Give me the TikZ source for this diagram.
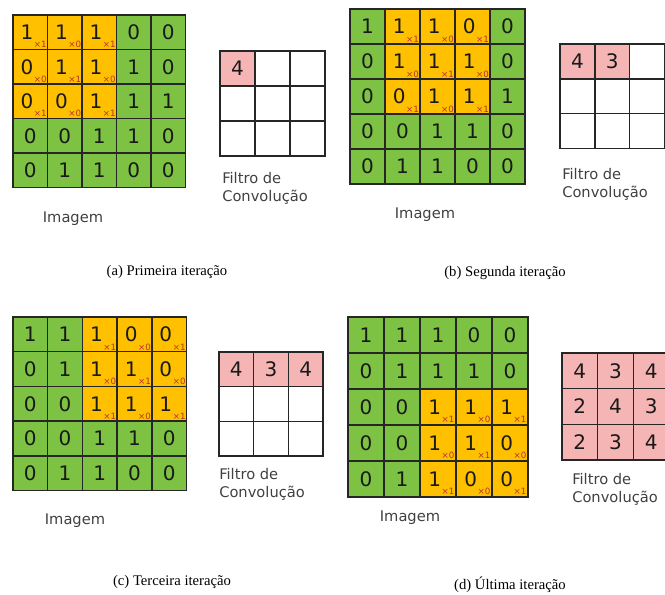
\documentclass[tikz,border=0pt]{standalone}
\usepackage{fontspec}
\setmainfont{Liberation Serif}
\newfontfamily\verdfont{DejaVu Sans}
\definecolor{imggreen}{HTML}{7DC242}
\definecolor{winorange}{HTML}{FFC000}
\definecolor{outpink}{HTML}{F5B5B5}
\definecolor{wtred}{HTML}{B8322A}
\tikzset{cell/.style={draw=black!85,line width=1.1pt,inner sep=0pt,fill=imggreen,text=black!90,font=\verdfont\fontsize{15}{16}\selectfont},hot/.style={cell,fill=winorange},outcell/.style={cell,fill=white},outdone/.style={cell,fill=outpink},wt/.style={inner sep=0pt,text=wtred,font=\verdfont\fontsize{6.5}{7}\selectfont},lbl/.style={inner sep=0pt,font=\verdfont\fontsize{11}{13.5}\selectfont,text=black!75,align=left},subcap/.style={inner sep=0pt,font=\fontsize{11}{13}\selectfont}}

\begin{document}
\begin{tikzpicture}[x=0.75pt,y=-0.75pt]
\useasboundingbox (0,0) rectangle (665,594);
% panel / image origin, cell / window row, col / output origin, cell / filled outputs
\foreach \p/\ix/\iy/\ic/\wr/\wc/\fx/\fy/\fc/\nd in {a/13/15/34.5/1/1/220/51/35/1,b/350/9/35/1/2/560/44/34.8/2,c/13/317/34.7/1/3/219/352/34.7/3,d/348/317/36/3/3/562/353/35.7/9}{
  \foreach \r/\row in {1/{1,1,1,0,0},2/{0,1,1,1,0},3/{0,0,1,1,1},4/{0,0,1,1,0},5/{0,1,1,0,0}}{
    \foreach \v [count=\c] in \row {
      \pgfmathtruncatemacro\hot{and(and(\r>=\wr,\r<=\wr+2),and(\c>=\wc,\c<=\wc+2))}
      \ifnum\hot=1 \def\sty{hot}\edef\txt{\v\noexpand\kern5pt}\else\def\sty{cell}\edef\txt{\v}\fi
      \node[\sty,minimum size=\ic*0.75pt] (\p-img-\r-\c) at ({\ix+(\c-0.5)*\ic},{\iy+(\r-0.5)*\ic}) {\txt};
      \ifnum\hot=1
        \pgfmathtruncatemacro\w{mod(\r-\wr+\c-\wc+1,2)}
        \node[wt] (\p-w-\r-\c) at ([shift={(10,12.5)}]\p-img-\r-\c.center) {×\w};
      \fi
    }
  }
  % convolved output
  \foreach \v [count=\k] in {4,3,4,2,4,3,2,3,4}{
    \pgfmathtruncatemacro\rr{div(\k-1,3)+1}
    \pgfmathtruncatemacro\cc{mod(\k-1,3)+1}
    \ifnum\k>\nd \def\sty{outcell}\def\txt{}\else\def\sty{outdone}\edef\txt{\v}\fi
    \node[\sty,minimum size=\fc*0.75pt] (\p-out-\rr-\cc) at ({\fx+(\cc-0.5)*\fc},{\fy+(\rr-0.5)*\fc}) {\txt};
  }
}
\node[lbl] (a-imglbl) at (73,219) {Imagem};
\node[lbl] (b-imglbl) at (425,215) {Imagem};
\node[lbl] (c-imglbl) at (75,521) {Imagem};
\node[lbl] (d-imglbl) at (410,518) {Imagem};
\node[lbl,anchor=west] (a-outlbl) at (222,188.5) {Filtro de\\Convolução};
\node[lbl,anchor=west] (b-outlbl) at (562,184.5) {Filtro de\\Convolução};
\node[lbl,anchor=west] (c-outlbl) at (219,484) {Filtro de\\Convolução};
\node[lbl,anchor=west] (d-outlbl) at (572,489.5) {Filtro de\\Convolução};
\node[subcap] (a-cap) at (167,272) {(a) Primeira iteração};
\node[subcap] (b-cap) at (505,273) {(b) Segunda iteração};
\node[subcap] (c-cap) at (172,582) {(c) Terceira iteração};
\node[subcap] (d-cap) at (510,585) {(d) Última iteração};
\end{tikzpicture}
\end{document}
